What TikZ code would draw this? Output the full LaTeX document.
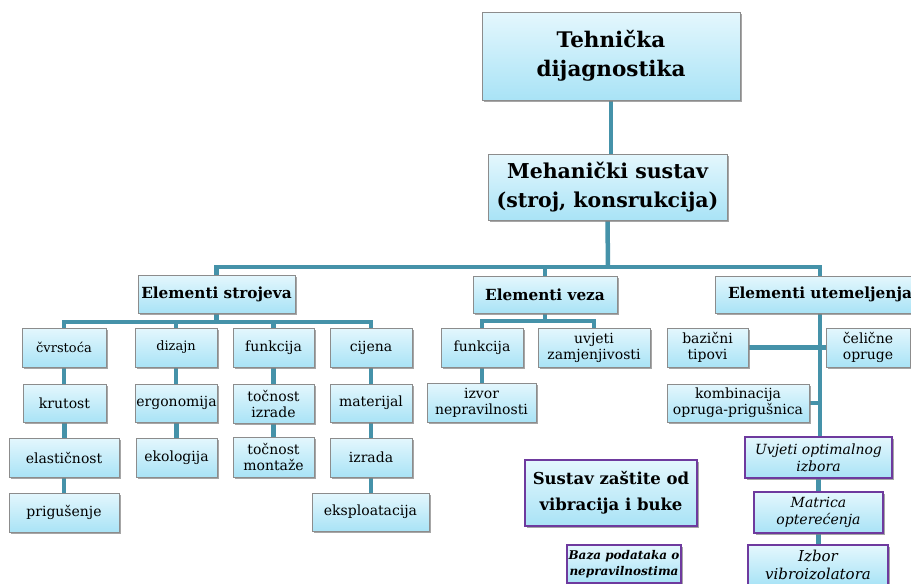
\documentclass[tikz,border=0pt]{standalone}
\usepackage{fontspec}
\setmainfont{DejaVu Serif}
\usetikzlibrary{shadows,backgrounds,calc}
\definecolor{btop}{HTML}{E4F7FD}
\definecolor{bbot}{HTML}{A9E3F6}
\definecolor{bedge}{HTML}{8C8C8C}
\definecolor{conn}{HTML}{4592A9}
\definecolor{purp}{HTML}{6E3A9E}
\tikzset{
  box/.style={draw=bedge, line width=0.9pt, top color=btop, bottom color=bbot,
    align=center, inner sep=1pt, text=black,
    drop shadow={shadow xshift=1.5pt, shadow yshift=-1.5pt, fill=black!50, opacity=0.7},
    font=\fontsize{14}{16}\selectfont},
  pbox/.style={box, draw=purp, line width=2pt},
  link/.style={draw=conn, line width=4.5pt},
  hdr/.style={font=\bfseries\fontsize{15.3}{17}\selectfont},
  sml/.style={font=\fontsize{13}{15}\selectfont},
  ital/.style={font=\itshape\fontsize{14}{17}\selectfont},
}
\begin{document}
\begin{tikzpicture}[x=1pt,y=-1pt]
\useasboundingbox (0,0) rectangle (911,584);
\clip (0,0) rectangle (911,584);
% level 0/1
\node[box, minimum width=258pt, minimum height=88pt, font=\bfseries\fontsize{21.5}{29}\selectfont] (top) at (611,56) {Tehnička\\dijagnostika};
\node[box, minimum width=239pt, minimum height=66pt, font=\bfseries\fontsize{20.5}{29}\selectfont] (meh) at (607.5,187) {Mehanički sustav\\(stroj, konsrukcija)};
% level 2
\node[box, hdr, minimum width=157pt, minimum height=38pt] (ES) at (216.5,294) {Elementi strojeva};
\node[box, hdr, minimum width=144pt, minimum height=37pt] (EV) at (545,294.5) {Elementi veza};
\node[box, hdr, minimum width=210pt, minimum height=37pt] (EU) at (820,294.5) {Elementi utemeljenja};
% Elementi strojeva children
\node[box, sml, minimum width=84pt, minimum height=39pt] (cvr) at (64,347.5) {čvrstoća};
\node[box, sml, minimum width=82pt, minimum height=39pt] (diz) at (176,347.5) {dizajn};
\node[box, minimum width=81pt, minimum height=39pt] (fun) at (273.5,347.5) {funkcija};
\node[box, minimum width=82pt, minimum height=39pt] (cij) at (371,347.5) {cijena};
\node[box, minimum width=83pt, minimum height=38pt] (kru) at (64.5,403) {krutost};
\node[box, minimum width=81pt, minimum height=38pt] (erg) at (176.5,403) {ergonomija};
\node[box, minimum width=81pt, minimum height=39pt] (toi) at (273.5,403.5) {točnost\\izrade};
\node[box, minimum width=82pt, minimum height=38pt] (mat) at (371,403) {materijal};
\node[box, minimum width=110pt, minimum height=39pt] (ela) at (64,457.5) {elastičnost};
\node[box, minimum width=81pt, minimum height=39pt] (eko) at (176.5,457.5) {ekologija};
\node[box, minimum width=81pt, minimum height=40pt] (tom) at (273.5,457) {točnost\\montaže};
\node[box, minimum width=82pt, minimum height=39pt] (izr) at (371,457.5) {izrada};
\node[box, minimum width=110pt, minimum height=39pt] (pri) at (64,512.5) {prigušenje};
\node[box, minimum width=117pt, minimum height=38pt] (eks) at (370.5,512) {eksploatacija};
% Elementi veza children
\node[box, minimum width=82pt, minimum height=39pt] (vfun) at (482,347.5) {funkcija};
\node[box, minimum width=112pt, minimum height=39pt] (uvj) at (594,347.5) {uvjeti\\zamjenjivosti};
\node[box, minimum width=109pt, minimum height=39pt] (izv) at (481.5,402.5) {izvor\\nepravilnosti};
% Elementi utemeljenja children
\node[box, minimum width=81pt, minimum height=39pt] (baz) at (707.5,347.5) {bazični\\tipovi};
\node[box, minimum width=84pt, minimum height=39pt] (cel) at (868,347.5) {čelične\\opruge};
\node[box, minimum width=142pt, minimum height=38pt] (kom) at (738,403) {kombinacija\\opruga-prigušnica};
\node[pbox, ital, minimum width=147pt, minimum height=41pt] (uopt) at (818.5,457.5) {Uvjeti optimalnog\\izbora};
\node[pbox, ital, minimum width=129pt, minimum height=41pt] (mtr) at (818.5,512.5) {Matrica\\opterećenja};
\node[pbox, font=\itshape\fontsize{15}{18}\selectfont, minimum width=140pt, minimum height=40pt] (izb) at (818,565) {Izbor\\vibroizolatora};
% Sustav
\node[pbox, font=\bfseries\fontsize{16.5}{26}\selectfont, minimum width=172pt, minimum height=66pt] (sus) at (611,493) {Sustav zaštite od\\vibracija i buke};
\node[pbox, font=\bfseries\itshape\fontsize{12}{16.5}\selectfont, minimum width=114pt, minimum height=38pt] (bazp) at (624,564) {Baza podataka o\\nepravilnostima};
% connectors
\coordinate (bus1) at (608,267);
\coordinate (bus2) at (216.5,322);
\coordinate (bus3) at (545,321);
\begin{pgfonlayer}{background}
\draw[link] (top.south) -- (top.south |- meh.north);
\draw[link] (meh.south) -- (bus1);
\draw[link] (ES.north) |- (bus1) -| (EU.north);
\draw[link] (EV.north) -- (EV.north |- bus1);
% strojevi
\draw[link] (ES.south) -- (bus2);
\draw[link] (cvr.north) |- (bus2) -| (cij.north);
\draw[link] (diz.north) -- (diz.north |- bus2);
\draw[link] (fun.north) -- (fun.north |- bus2);
\draw[link] (cvr.south) -- (cvr.south |- kru.north);
\draw[link] (kru.south) -- (kru.south |- ela.north);
\draw[link] (ela.south) -- (ela.south |- pri.north);
\draw[link] (diz.south) -- (diz.south |- erg.north);
\draw[link] (erg.south) -- (erg.south |- eko.north);
\draw[link] (fun.south) -- (fun.south |- toi.north);
\draw[link] (toi.south) -- (toi.south |- tom.north);
\draw[link] (cij.south) -- (cij.south |- mat.north);
\draw[link] (mat.south) -- (mat.south |- izr.north);
\draw[link] (izr.south) -- (izr.south |- eks.north);
% veza
\draw[link] (EV.south) -- (bus3);
\draw[link] (vfun.north) |- (bus3) -| (uvj.north);
\draw[link] (vfun.south) -- (vfun.south |- izv.north);
% utemeljenja
\draw[link] (EU.south) -- (EU.south |- uopt.north);
\draw[link] (baz.east) -- (cel.west);
\draw[link] (kom.east) -- (kom.east -| EU.south);
\draw[link] (uopt.south) -- (uopt.south |- mtr.north);
\draw[link] (mtr.south) -- (mtr.south |- izb.north);
\end{pgfonlayer}
\end{tikzpicture}
\end{document}
